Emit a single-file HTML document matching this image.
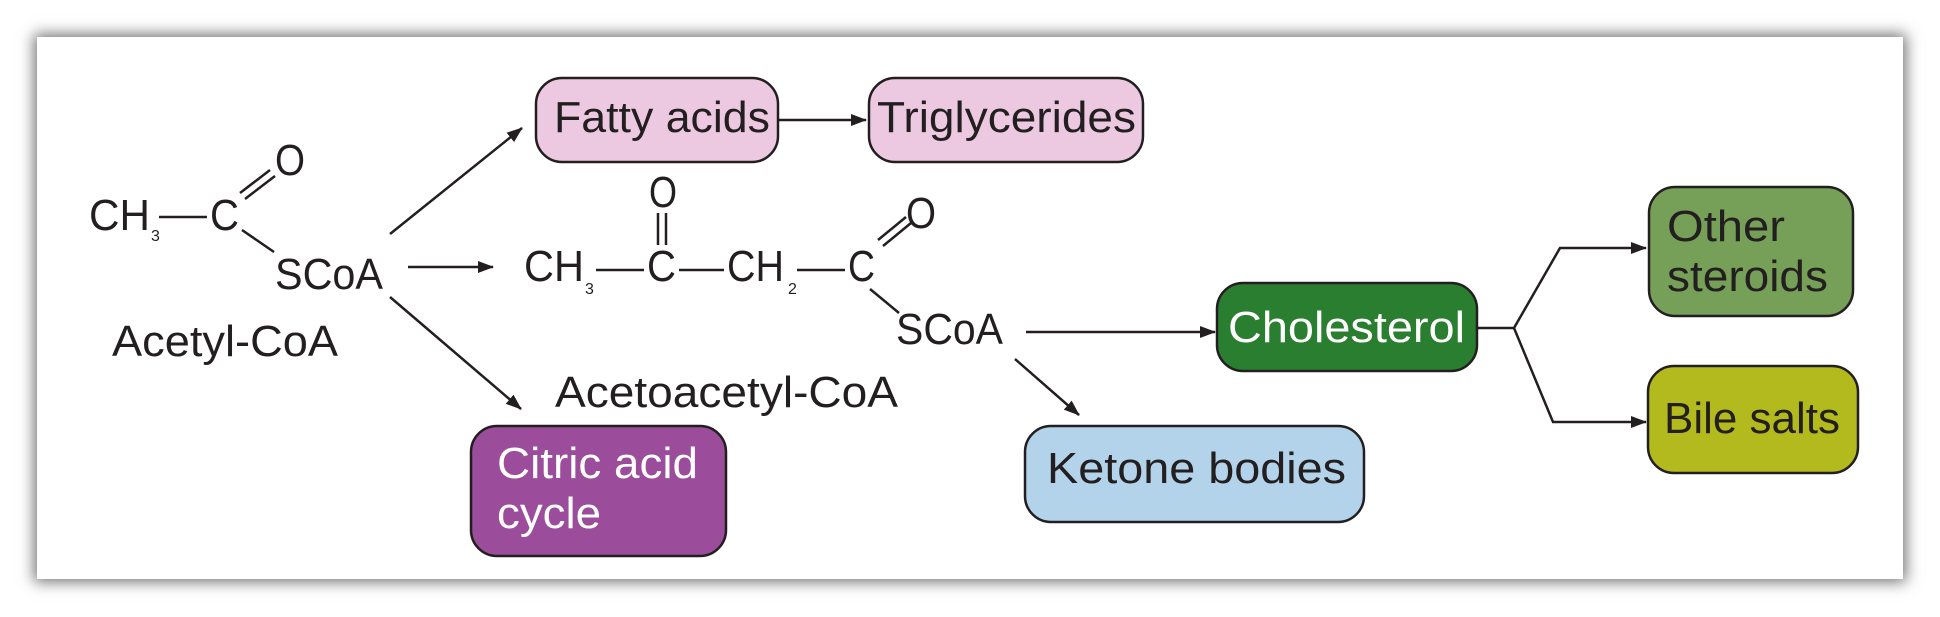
<!DOCTYPE html>
<html><head><meta charset="utf-8"><style>
html,body{margin:0;padding:0;background:#fff;}
#p{position:absolute;left:37px;top:37px;width:1866px;height:542px;background:#fff;box-shadow:0 0 14px 3px rgba(0,0,0,.55);}
svg{position:absolute;left:0;top:0;}
text{font-family:"Liberation Sans",sans-serif;fill:#231f20;}
</style></head><body>
<div id="p"></div>
<svg width="1940" height="617" viewBox="0 0 1940 617">
<defs><marker id="a" markerWidth="16" markerHeight="12" refX="15" refY="6" orient="auto" markerUnits="userSpaceOnUse"><path d="M0,0 L16,6 L0,12 z" fill="#231f20"/></marker></defs>
<g stroke="#231f20" stroke-width="2.5" fill="none">
<rect x="536" y="78" width="242" height="84" rx="26" fill="#ecc9e0"/>
<rect x="869" y="78" width="274" height="84" rx="26" fill="#ecc9e0"/>
<rect x="471" y="426" width="255" height="130" rx="26" fill="#9b4d9b"/>
<rect x="1025" y="426" width="339" height="96" rx="26" fill="#b3d3ea"/>
<rect x="1217" y="283" width="260" height="88" rx="26" fill="#2a7e30"/>
<rect x="1649" y="187" width="204" height="129" rx="26" fill="#769f58"/>
<rect x="1648" y="366" width="210" height="107" rx="26" fill="#b3ba1e"/>
<line x1="779" y1="120" x2="866" y2="120" marker-end="url(#a)"/>
<line x1="390" y1="234" x2="522" y2="128" marker-end="url(#a)"/>
<line x1="408" y1="267" x2="493" y2="267" marker-end="url(#a)"/>
<line x1="390" y1="297" x2="521" y2="409" marker-end="url(#a)"/>
<line x1="1026" y1="332" x2="1215" y2="332" marker-end="url(#a)"/>
<line x1="1015" y1="359" x2="1079" y2="415" marker-end="url(#a)"/>
<polyline points="1477,328 1514,328 1560,248 1646,248" marker-end="url(#a)"/>
<polyline points="1514,328 1553,422 1646,422" marker-end="url(#a)"/>
<line x1="159" y1="217" x2="207" y2="217"/>
<line x1="240" y1="193" x2="270" y2="170"/>
<line x1="245" y1="199" x2="275" y2="176"/>
<line x1="242" y1="230" x2="274" y2="252"/>
<line x1="596" y1="270" x2="644" y2="270"/>
<line x1="658" y1="213" x2="658" y2="245"/>
<line x1="666" y1="213" x2="666" y2="245"/>
<line x1="679" y1="270" x2="724" y2="270"/>
<line x1="797" y1="270" x2="845" y2="270"/>
<line x1="878" y1="240" x2="906" y2="217"/>
<line x1="883" y1="246" x2="911" y2="223"/>
<line x1="870" y1="289" x2="899" y2="313"/>
</g>
<g font-size="44">
<text x="89" y="230" textLength="61" lengthAdjust="spacingAndGlyphs">CH</text>
<text x="151" y="241" font-size="16">3</text>
<text x="210" y="230" textLength="29" lengthAdjust="spacingAndGlyphs">C</text>
<text x="275" y="175" textLength="30" lengthAdjust="spacingAndGlyphs">O</text>
<text x="275" y="289" textLength="108" lengthAdjust="spacingAndGlyphs">SCoA</text>
<text x="112" y="356" textLength="226" lengthAdjust="spacingAndGlyphs">Acetyl-CoA</text>
<text x="524" y="281" textLength="60" lengthAdjust="spacingAndGlyphs">CH</text>
<text x="585" y="294" font-size="16">3</text>
<text x="647" y="281" textLength="29" lengthAdjust="spacingAndGlyphs">C</text>
<text x="649" y="207" textLength="28" lengthAdjust="spacingAndGlyphs">O</text>
<text x="727" y="281" textLength="57" lengthAdjust="spacingAndGlyphs">CH</text>
<text x="788" y="294" font-size="16">2</text>
<text x="848" y="281" textLength="27" lengthAdjust="spacingAndGlyphs">C</text>
<text x="906" y="228" textLength="30" lengthAdjust="spacingAndGlyphs">O</text>
<text x="896" y="344" textLength="107" lengthAdjust="spacingAndGlyphs">SCoA</text>
<text x="555" y="407" textLength="343" lengthAdjust="spacingAndGlyphs">Acetoacetyl-CoA</text>
<text x="554" y="132" textLength="216" lengthAdjust="spacingAndGlyphs">Fatty acids</text>
<text x="877" y="132" textLength="259" lengthAdjust="spacingAndGlyphs">Triglycerides</text>
<text x="497" y="478" textLength="201" lengthAdjust="spacingAndGlyphs" style="fill:#fff">Citric acid</text>
<text x="497" y="528" textLength="104" lengthAdjust="spacingAndGlyphs" style="fill:#fff">cycle</text>
<text x="1047" y="483" textLength="299" lengthAdjust="spacingAndGlyphs">Ketone bodies</text>
<text x="1228" y="342" textLength="237" lengthAdjust="spacingAndGlyphs" style="fill:#fff">Cholesterol</text>
<text x="1667" y="241" textLength="118" lengthAdjust="spacingAndGlyphs">Other</text>
<text x="1667" y="291" textLength="161" lengthAdjust="spacingAndGlyphs">steroids</text>
<text x="1664" y="433" textLength="176" lengthAdjust="spacingAndGlyphs">Bile salts</text>
</g>
</svg>
</body></html>
